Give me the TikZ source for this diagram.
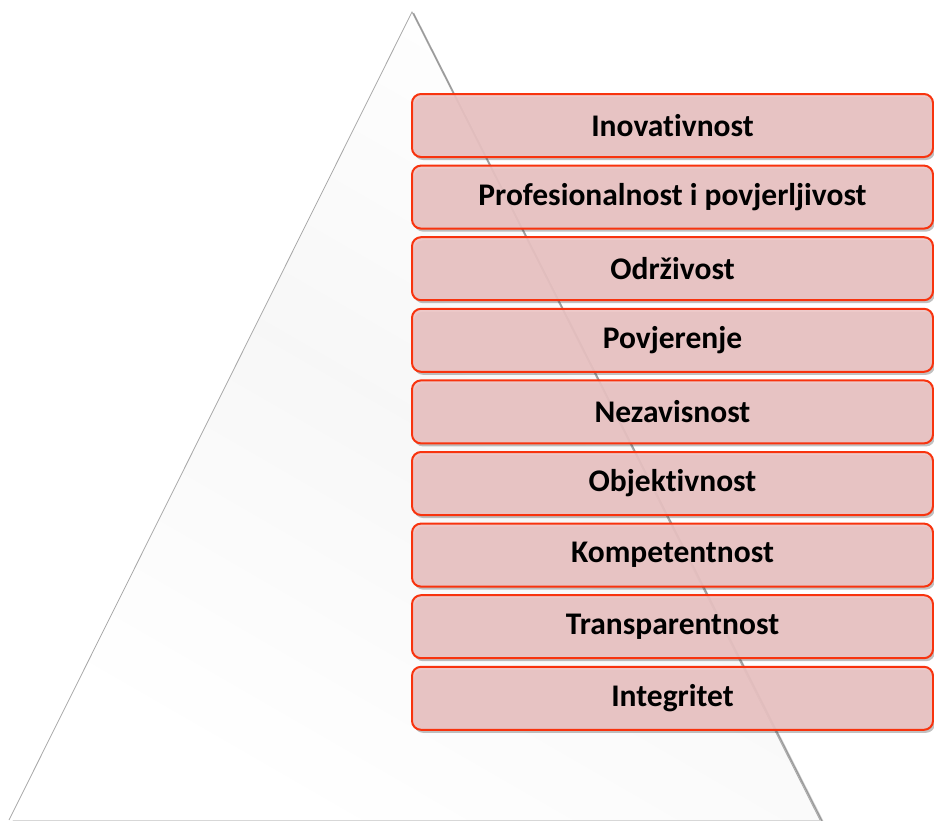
\documentclass[tikz,border=0pt]{standalone}
\usepackage{fontspec}
\setmainfont[Ligatures=NoCommon]{Carlito}
\usetikzlibrary{shadings,shadows}
\definecolor{boxfill}{HTML}{ECC4C4}
\definecolor{boxedge}{HTML}{F8330E}
\definecolor{triedge}{HTML}{A8A8A8}
\tikzset{
  valbox/.style={draw=boxedge, line width=2pt, fill=boxfill, fill opacity=0.9,
    text opacity=1, rounded corners=9pt, minimum width=521pt, minimum height=63pt,
    inner sep=0pt, font=\bfseries\fontsize{31.5}{36}\selectfont, text=black,
    drop shadow={shadow xshift=2pt, shadow yshift=-3pt, opacity=0.35, fill=black!70}},
}
\begin{document}
\begin{tikzpicture}[x=1pt,y=-1pt]
\useasboundingbox (0,0) rectangle (934,820);
% triangle shadow
\fill[black!35, opacity=0.5] (414,14) -- (824,822) -- (12,822) -- cycle;
\shade[top color=white, bottom color=white, middle color=black!3, shading angle=-30]
  (412,12) -- (820,820) -- (9,820) -- cycle;
\draw[triedge, line width=0.8pt] (9,820) -- (412,12) -- (820,820);
\draw[black!55, line width=1.2pt, opacity=0.6] (413.5,13) -- (822,821);
% boxes
\foreach \t [count=\i from 0] in {Inovativnost, Profesionalnost i povjerljivost, Odr\v{z}ivost,
    Povjerenje, Nezavisnost, Objektivnost, Kompetentnost, Transparentnost, Integritet}{
  \node[valbox] (b\i) at (672.5, {125.5 + 71.6*\i}) {\t};
}
\end{tikzpicture}
\end{document}
